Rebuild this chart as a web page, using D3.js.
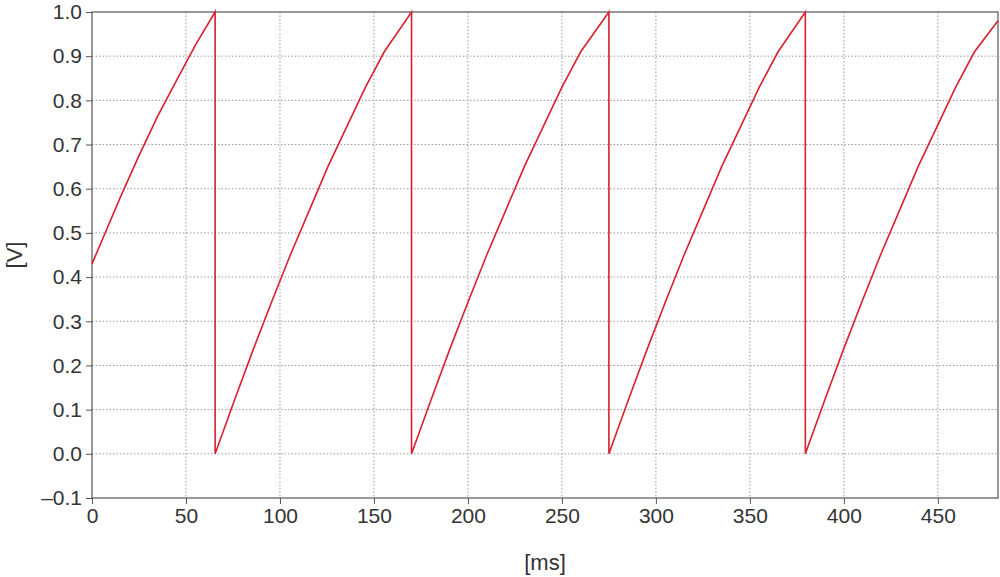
<!DOCTYPE html>
<html><head><meta charset="utf-8">
<script src="https://cdn.jsdelivr.net/npm/d3@7"></script>
<style>body{margin:0;background:#fff}svg{display:block}</style>
</head><body><svg width="1000" height="577"></svg>
<script>
// sawtooth samples: time [ms], voltage [V]
timesMs = [0,5,15,25,35,45,55,65.5,
  65.5,75.5,85.5,95.5,105.5,115.5,125.5,135.5,145.5,155.5,170,
  170,180,190,200,210,220,230,240,250,260,275,
  275,285,295,305,315,325,335,345,355,365,379.5,
  379.5,389.5,399.5,409.5,419.5,429.5,439.5,449.5,459.5,469.5,482];
volts = [0.43,0.48,0.58,0.675,0.765,0.845,0.925,1.0,
  0,0.118,0.233,0.343,0.45,0.55,0.65,0.74,0.83,0.91,1.0,
  0,0.118,0.233,0.343,0.45,0.55,0.65,0.74,0.83,0.91,1.0,
  0,0.118,0.233,0.343,0.45,0.55,0.65,0.74,0.83,0.91,1.0,
  0,0.118,0.233,0.343,0.45,0.55,0.65,0.74,0.83,0.91,0.98];
xTicks = [0,50,100,150,200,250,300,350,400,450];
yTicks = [-0.1,0,0.1,0.2,0.3,0.4,0.5,0.6,0.7,0.8,0.9,1.0];

const svg = d3.select("svg");
const mLeft = 92, mRight = 998, mTop = 12, mBottom = 498;
const x = d3.scaleLinear().domain([0, 482]).range([mLeft, mRight]);
const y = d3.scaleLinear().domain([-0.1, 1.0]).range([mBottom, mTop]);
const font = "'Liberation Sans Narrow', 'Liberation Sans', sans-serif";

const grid = svg.append("g").attr("stroke", "#999").attr("stroke-dasharray", "1.5,2").attr("stroke-width", 1);
grid.selectAll(".gx").data(xTicks.slice(1)).join("line")
  .attr("x1", d => x(d)).attr("x2", d => x(d)).attr("y1", mTop).attr("y2", mBottom);
grid.selectAll(".gy").data(yTicks.slice(1, -1)).join("line")
  .attr("x1", mLeft).attr("x2", mRight).attr("y1", d => y(d)).attr("y2", d => y(d));

const fmt = d => d < 0 ? "\u2013" + Math.abs(d).toFixed(1) : d.toFixed(1);
const ax = svg.append("g").attr("transform", `translate(0,${mBottom})`)
  .call(d3.axisBottom(x).tickValues(xTicks).tickSize(6).tickPadding(4));
const ay = svg.append("g").attr("transform", `translate(${mLeft},0)`)
  .call(d3.axisLeft(y).tickValues(yTicks).tickFormat(fmt).tickSize(6).tickPadding(4));
[ax, ay].forEach(a => {
  a.select(".domain").remove();
  a.selectAll("line").attr("stroke", "#555");
  a.selectAll("text").attr("fill", "#333").style("font", `21px ${font}`);
});

svg.append("rect").attr("x", mLeft).attr("y", mTop).attr("width", mRight - mLeft).attr("height", mBottom - mTop)
  .attr("fill", "none").attr("stroke", "#555").attr("stroke-width", 1.2);

svg.append("path").datum(timesMs.map((t, i) => [t, volts[i]]))
  .attr("fill", "none").attr("stroke", "#d8202e").attr("stroke-width", 1.6)
  .attr("d", d3.line().x(d => x(d[0])).y(d => y(d[1])));

svg.append("text").attr("x", (mLeft + mRight) / 2).attr("y", 570).attr("text-anchor", "middle")
  .attr("fill", "#333").style("font", `22px ${font}`).text("[ms]");
svg.append("text").attr("transform", `translate(22,${y(0.45)}) rotate(-90)`).attr("text-anchor", "middle")
  .attr("fill", "#333").style("font", `22px ${font}`).text("[V]");
</script></body></html>
